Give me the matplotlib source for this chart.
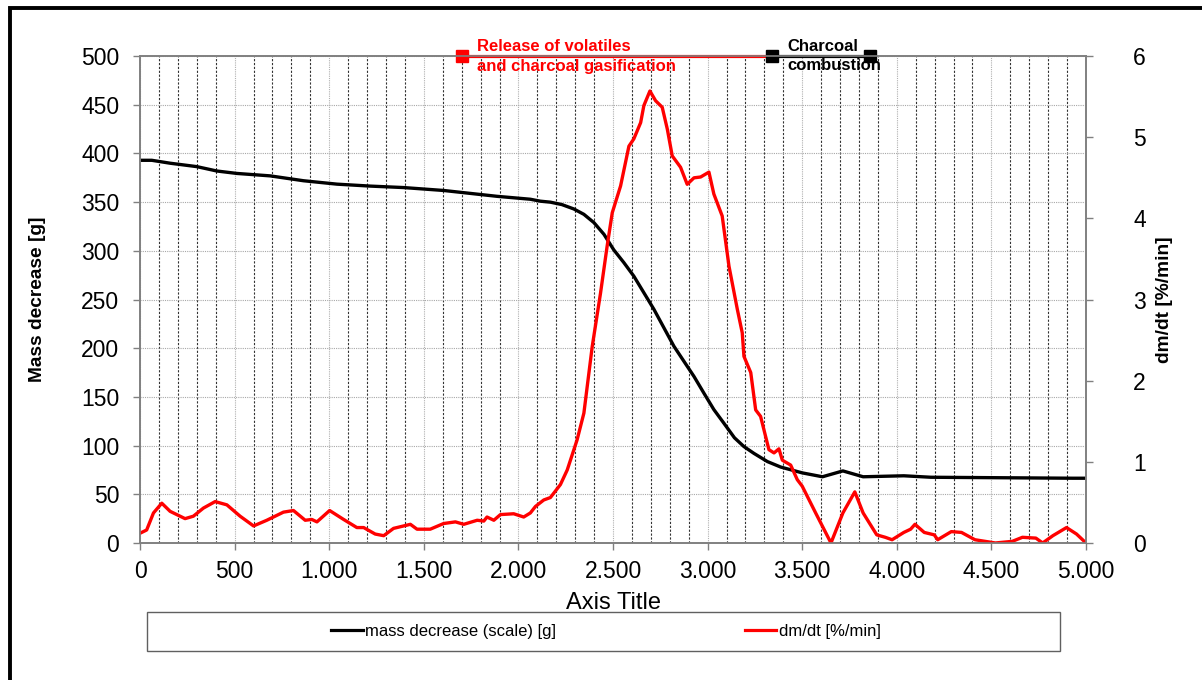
import numpy as np
import matplotlib
matplotlib.use('Agg')
from matplotlib import pyplot as plt
from matplotlib.ticker import MultipleLocator, FuncFormatter
from matplotlib.patches import Rectangle
from matplotlib.lines import Line2D

plt.rcParams['font.family'] = ['Liberation Sans', 'DejaVu Sans']

# mass curve (left axis, g)
mass_t = [0, 62, 159, 300, 406, 512, 688, 864, 1041, 1217, 1393, 1605, 1887, 2063, 2116,
          2169, 2230, 2293, 2346, 2399, 2452, 2504, 2557, 2610, 2663, 2716, 2769, 2822, 2875,
          2928, 2980, 3033, 3086, 3142, 3192, 3245, 3316, 3386, 3500, 3607, 3715, 3822,
          4037, 4180, 4931, 5000]
mass_g = [393, 393, 390, 386.5, 382, 379.5, 377, 372, 368.5, 366.5, 365, 362, 356, 353, 351,
          350, 347.5, 343, 337.5, 329, 317, 301, 288, 274, 257, 240, 221, 202, 186.5,
          171, 154, 137, 123, 108, 99, 92, 83.6, 78, 72, 68, 74, 68,
          69, 67.5, 66.5, 66.5]

# mass loss rate (right axis, %/min)
rate_t = [0, 35, 71, 115, 159, 238, 282, 335, 397, 459, 529, 600, 670, 758, 811, 873, 908,
          935, 1002, 1076, 1146, 1182, 1243, 1288, 1340, 1429, 1464, 1534, 1605, 1667, 1711,
          1782, 1817, 1834, 1870, 1905, 1975, 2028, 2063, 2090, 2134, 2169, 2222, 2258, 2310,
          2346, 2390, 2434, 2469, 2496, 2540, 2584, 2610, 2646, 2663, 2695, 2725, 2760, 2787,
          2813, 2857, 2892, 2928, 2963, 3007, 3033, 3077, 3113, 3157, 3183, 3192, 3228, 3254,
          3280, 3324, 3351, 3377, 3395, 3439, 3474, 3500, 3571, 3652, 3715, 3778, 3822, 3894,
          3939, 3975, 4037, 4073, 4096, 4145, 4198, 4216, 4288, 4342, 4413, 4521, 4610, 4664,
          4735, 4771, 4825, 4897, 4950, 5000]
rate_v = [0.12, 0.16, 0.37, 0.49, 0.39, 0.30, 0.33, 0.43, 0.51, 0.47, 0.33, 0.21, 0.28, 0.38,
          0.40, 0.28, 0.29, 0.26, 0.40, 0.29, 0.19, 0.19, 0.11, 0.09, 0.18, 0.23, 0.17, 0.17,
          0.24, 0.26, 0.23, 0.28, 0.27, 0.32, 0.28, 0.35, 0.36, 0.32, 0.37, 0.45, 0.53, 0.56,
          0.72, 0.90, 1.27, 1.60, 2.42, 3.08, 3.66, 4.07, 4.40, 4.89, 4.98, 5.18, 5.39, 5.57,
          5.45, 5.37, 5.10, 4.77, 4.63, 4.42, 4.50, 4.51, 4.57, 4.30, 4.03, 3.41, 2.88, 2.59,
          2.30, 2.10, 1.64, 1.56, 1.15, 1.11, 1.16, 1.02, 0.96, 0.78, 0.70, 0.37, 0.0, 0.37,
          0.63, 0.37, 0.10, 0.07, 0.04, 0.13, 0.17, 0.23, 0.13, 0.10, 0.04, 0.14, 0.13, 0.04,
          0.0, 0.02, 0.07, 0.06, 0.0, 0.09, 0.19, 0.11, 0.0]

# phase markers along the top edge
phase_t = [1700, 3340, 3860]
phase_labels = ['Release of volatiles\nand charcoal gasification', 'Charcoal\ncombustion']
phase_colors = ['#ff0000', '#000000']

fig = plt.figure(figsize=(12.02, 6.8), dpi=100)
ax = fig.add_axes([0.1165, 0.2015, 0.787, 0.716])
ax2 = ax.twinx()

ax.plot(mass_t, mass_g, color='black', lw=2.4, solid_joinstyle='round')
ax2.plot(rate_t, rate_v, color='#ff0000', lw=2.4, solid_joinstyle='round')

ax.set_xlim(0, 5000)
ax.set_ylim(0, 500)
ax2.set_ylim(0, 6)

ax.xaxis.set_major_locator(MultipleLocator(500))
ax.xaxis.set_minor_locator(MultipleLocator(100))
ax.yaxis.set_major_locator(MultipleLocator(50))
ax2.yaxis.set_major_locator(MultipleLocator(1))
ax.xaxis.set_major_formatter(FuncFormatter(lambda v, p: f'{v:,.0f}'.replace(',', '.')))

ax.grid(which='minor', axis='x', color='#333333', lw=0.8, linestyle=(0, (2, 1.5)))
ax.grid(which='major', axis='x', color='#b0b0b0', lw=0.8, linestyle=(0, (1, 1)))
ax.grid(which='major', axis='y', color='#a8a8a8', lw=0.8, linestyle=(0, (1, 1)))
ax.set_axisbelow(True)

for a in (ax, ax2):
    for s in a.spines.values():
        s.set_color('#808080')
        s.set_linewidth(1.2)
ax.tick_params(axis='both', which='major', labelsize=16.5, length=5, width=1, color='#808080')
ax.tick_params(axis='x', which='minor', length=0)
ax.tick_params(axis='y', pad=10)
ax.tick_params(axis='x', pad=7)
ax2.tick_params(axis='y', labelsize=16.5, length=5, width=1, color='#808080', pad=29)

ax.set_ylabel('Mass decrease [g]', fontsize=13.8, fontweight='bold')
ax.yaxis.set_label_coords(-0.0994, 0.5)
ax2.set_ylabel('dm/dt [%/min]', fontsize=13.8, fontweight='bold')
ax2.yaxis.set_label_coords(1.074, 0.5)
ax.set_xlabel('Axis Title', fontsize=17)
ax.xaxis.set_label_coords(0.5, -0.1)

# phase bars with square end markers
for i, lab in enumerate(phase_labels):
    c = phase_colors[i]
    ax.plot(phase_t[i:i + 2], [500, 500], color=c, lw=2.3, clip_on=False, zorder=5)
    ax.plot(phase_t[i], 500, 's', color=c, ms=8.5, clip_on=False, zorder=6)
    ax.annotate(lab, (phase_t[i], 500), xytext=(11, 0), textcoords='offset points',
                color=c, fontsize=12, fontweight='bold', va='center', ha='left',
                linespacing=1.4, annotation_clip=False, zorder=7)
ax.plot(phase_t[-1], 500, 's', color='black', ms=8.5, clip_on=False, zorder=6)

# legend box below the axes
fig.add_artist(Rectangle((147 / 1202, 1 - 651 / 680), (1060 - 147) / 1202, 39 / 680,
                         transform=fig.transFigure, fill=False, edgecolor='#606060', lw=1))
handles = [Line2D([], [], color='black', lw=2.3), Line2D([], [], color='#ff0000', lw=2.3)]
fig.legend(handles, ['mass decrease (scale) [g]', 'dm/dt [%/min]'], ncol=2,
           loc='center left', bbox_to_anchor=(316 / 1202, 1 - 631.5 / 680), frameon=False,
           fontsize=12, handlelength=1.9, handletextpad=0.15, columnspacing=11.3)

# outer frame
fig.add_artist(Rectangle((10 / 1202, -0.5), 2, 0.5 + 1 - 8 / 680, transform=fig.transFigure,
                         fill=False, edgecolor='black', lw=2.8))

fig.savefig('out.png', dpi=100)
